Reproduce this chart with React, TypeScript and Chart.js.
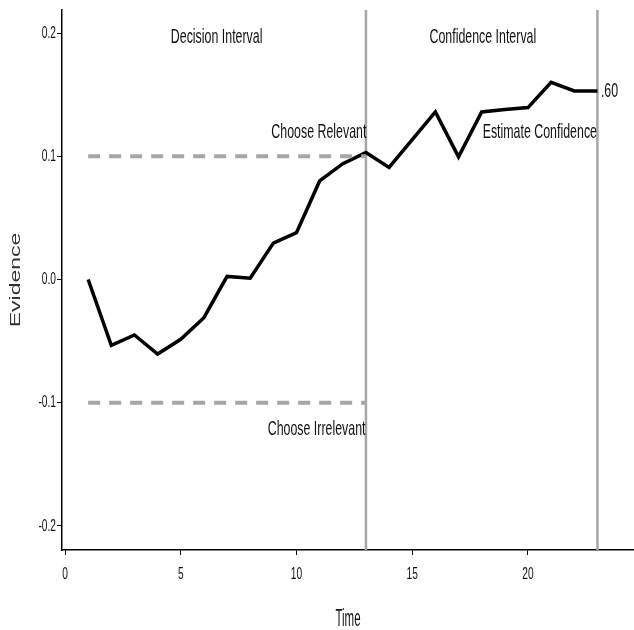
import React, { useEffect, useRef } from "react";
import { Chart, registerables } from "chart.js";

Chart.register(...registerables);

const timeSteps = [1, 2, 3, 4, 5, 6, 7, 8, 9, 10, 11, 12, 13, 14, 15, 16, 17, 18, 19, 20, 21, 22, 23];
const evidence = [0.0, -0.0535, -0.045, -0.0605, -0.0485, -0.031, 0.0025, 0.001, 0.0295, 0.038, 0.08, 0.094, 0.103, 0.091, 0.1135, 0.136, 0.0995, 0.136, 0.138, 0.1395, 0.16, 0.153, 0.153];
const upperBound = [0.1, 0.1];
const lowerBound = [-0.1, -0.1];
const boundX = [1, 13];
const intervalLines = [13, 23];
const xTicks = [0, 5, 10, 15, 20];
const yTicks = [-0.2, -0.1, 0.0, 0.1, 0.2];
const annotations = [
  { text: "Decision Interval", x: 6.55, y: 0.197, align: "center" },
  { text: "Confidence Interval", x: 18.05, y: 0.197, align: "center" },
  { text: "Choose Relevant", x: 13.02, y: 0.1195, align: "right" },
  { text: "Choose Irrelevant", x: 12.98, y: -0.1215, align: "right" },
  { text: "Estimate Confidence", x: 22.98, y: 0.1195, align: "right" },
  { text: ".60", x: 23.15, y: 0.1525, align: "left" },
];

const FONT = "'Liberation Sans', Arial, sans-serif";

function squishText(ctx: CanvasRenderingContext2D, text: string, x: number, y: number, size: number, align: CanvasTextAlign, sx: number, color = "#111") {
  ctx.save();
  ctx.translate(x, y);
  ctx.scale(sx, 1);
  ctx.font = `${size}px ${FONT}`;
  ctx.fillStyle = color;
  ctx.textAlign = align;
  ctx.textBaseline = "middle";
  ctx.fillText(text, 0, 0);
  ctx.restore();
}

const overlay = {
  id: "overlay",
  beforeDatasetsDraw(chart: any) {
    const { ctx, chartArea, scales } = chart;
    ctx.save();
    ctx.strokeStyle = "#a6a6a6";
    ctx.lineWidth = 2.5;
    intervalLines.forEach((v) => {
      const px = scales.x.getPixelForValue(v);
      ctx.beginPath();
      ctx.moveTo(px, chartArea.top);
      ctx.lineTo(px, chartArea.bottom);
      ctx.stroke();
    });
    ctx.restore();
  },
  afterDraw(chart: any) {
    const { ctx, chartArea, scales } = chart;
    annotations.forEach((a) => {
      squishText(ctx, a.text, scales.x.getPixelForValue(a.x), scales.y.getPixelForValue(a.y), 21, a.align as CanvasTextAlign, 0.59);
    });
    xTicks.forEach((t) => {
      squishText(ctx, String(t), scales.x.getPixelForValue(t), chartArea.bottom + 24, 17, "center", 0.6);
    });
    yTicks.forEach((t) => {
      squishText(ctx, t.toFixed(1), chartArea.left - 6, scales.y.getPixelForValue(t), 17, "right", 0.6);
    });
    squishText(ctx, "Time", (chartArea.left + chartArea.right) / 2, 620, 23, "center", 0.5);
    ctx.save();
    ctx.translate(16, (chartArea.top + chartArea.bottom) / 2);
    ctx.rotate(-Math.PI / 2);
    ctx.scale(1, 0.65);
    ctx.font = `23px ${FONT}`;
    ctx.fillStyle = "#333";
    ctx.textAlign = "center";
    ctx.textBaseline = "middle";
    ctx.fillText("Evidence", 0, 0);
    ctx.restore();
  },
};

export default function App() {
  const ref = useRef<HTMLCanvasElement | null>(null);
  useEffect(() => {
    document.body.style.margin = "0";
    const chart = new Chart(ref.current!, {
      type: "line",
      data: {
        datasets: [
          {
            label: "Choose Relevant bound",
            data: boundX.map((x, i) => ({ x, y: upperBound[i] })),
            borderColor: "#a6a6a6",
            borderWidth: 4,
            borderDash: [12, 9],
            pointRadius: 0,
          },
          {
            label: "Choose Irrelevant bound",
            data: boundX.map((x, i) => ({ x, y: lowerBound[i] })),
            borderColor: "#a6a6a6",
            borderWidth: 4,
            borderDash: [12, 9],
            pointRadius: 0,
          },
          {
            label: "Evidence",
            data: timeSteps.map((x, i) => ({ x, y: evidence[i] })),
            borderColor: "#000",
            borderWidth: 3.5,
            pointRadius: 0,
            tension: 0,
            borderJoinStyle: "miter",
          },
        ],
      },
      options: {
        animation: false,
        responsive: false,
        layout: { padding: { top: 10, right: 0, left: 0, bottom: 0 } },
        plugins: { legend: { display: false }, tooltip: { enabled: false } },
        scales: {
          x: {
            type: "linear",
            min: -0.13,
            max: 24.58,
            afterFit: (s: any) => { s.height = 80; },
            afterBuildTicks: (s: any) => { s.ticks = xTicks.map((v) => ({ value: v })); },
            ticks: { display: false },
            grid: { drawOnChartArea: false, drawTicks: true, tickLength: 5, tickColor: "#000", tickWidth: 1 },
            border: { display: true, color: "#000", width: 1.5 },
          },
          y: {
            type: "linear",
            min: -0.2195,
            max: 0.2187,
            afterFit: (s: any) => { s.width = 62; },
            afterBuildTicks: (s: any) => { s.ticks = yTicks.map((v) => ({ value: v })); },
            ticks: { display: false },
            grid: { drawOnChartArea: false, drawTicks: true, tickLength: 5, tickColor: "#000", tickWidth: 1 },
            border: { display: true, color: "#000", width: 1.5 },
          },
        },
      },
      plugins: [overlay],
    });
    return () => chart.destroy();
  }, []);
  return <canvas ref={ref} width={634} height={630} style={{ display: "block" }} />;
}
